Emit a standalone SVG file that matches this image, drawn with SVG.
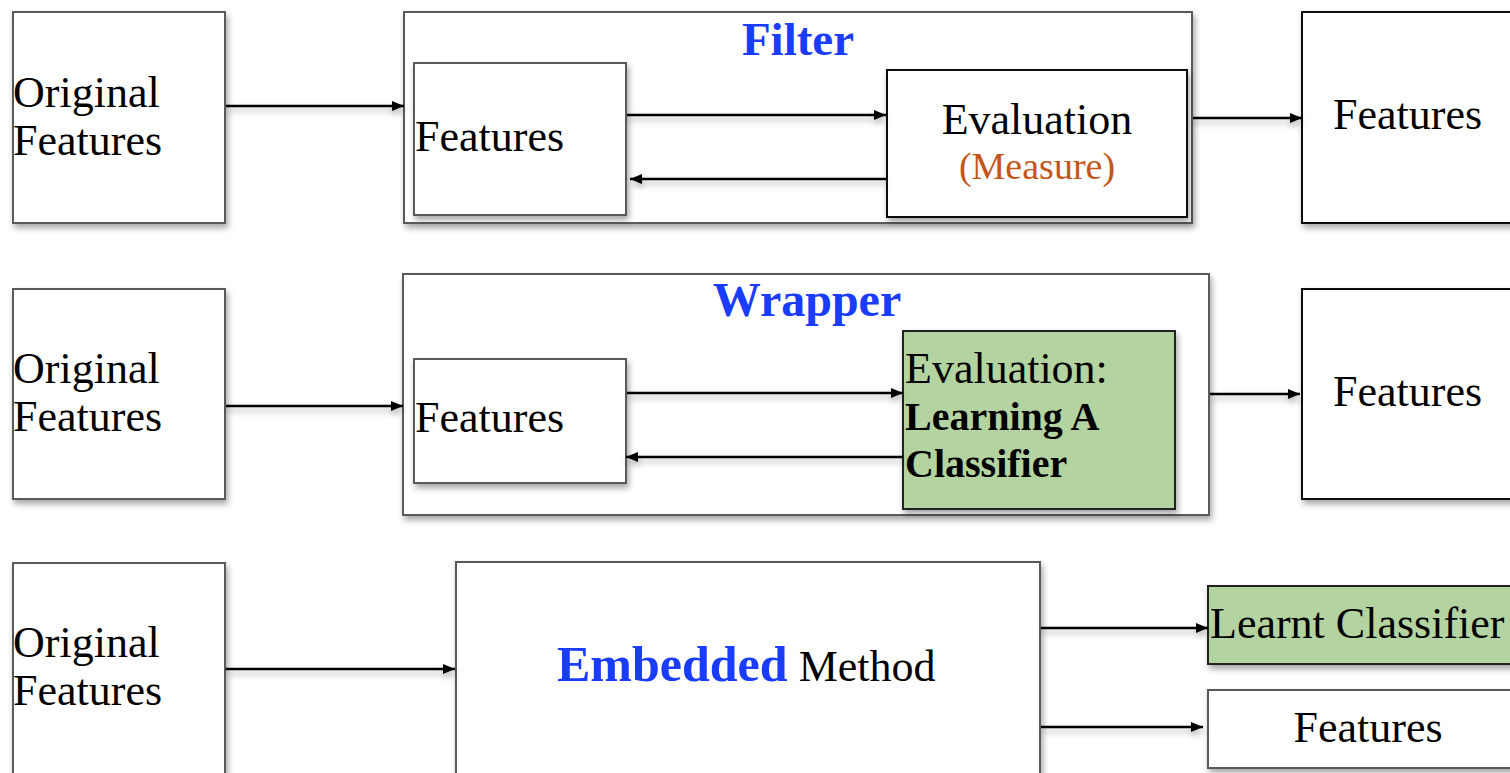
<svg xmlns="http://www.w3.org/2000/svg" width="1510" height="773" viewBox="0 0 1510 773">
  <defs>
    <filter id="sh" x="-10%" y="-10%" width="130%" height="140%">
      <feDropShadow dx="2" dy="4" stdDeviation="3" flood-color="#000" flood-opacity="0.35"/>
    </filter>
    <filter id="shl" filterUnits="userSpaceOnUse" x="0" y="0" width="1510" height="773">
      <feDropShadow dx="1" dy="4" stdDeviation="3" flood-color="#000" flood-opacity="0.3"/>
    </filter>
    <marker id="ah" viewBox="0 0 12 10" refX="12" refY="5" markerWidth="4.8" markerHeight="4" orient="auto" markerUnits="strokeWidth">
      <path d="M0,0 L12,5 L0,10 Z" fill="#000"/>
    </marker>
    <style>
      .box { fill: #fff; stroke: #5a5a5a; stroke-width: 2; filter: url(#sh); }
      .boxk { fill: #fff; stroke: #111; stroke-width: 2; filter: url(#sh); }
      .green { fill: #b3d4a0; stroke: #222; stroke-width: 2; filter: url(#sh); }
      .t { font-family: "Liberation Serif", "Times New Roman", serif; font-size: 44px; fill: #000; }
      .title { font-family: "Liberation Serif", "Times New Roman", serif; font-size: 47px; font-weight: bold; fill: #1a3cff; }
      .b { font-weight: bold; }
      .bl { font-weight: bold; font-size: 40px; }
      .meas { font-size: 38px; fill: #c4551a; }
      .conn { filter: url(#shl); }
      .conn line { stroke: #000; stroke-width: 2.5; marker-end: url(#ah); }
    </style>
  </defs>
  <rect width="1510" height="773" fill="#fff"/>

  <!-- Row 1: Filter -->
  <g id="orig1">
    <rect class="box" x="13" y="12" width="212" height="211"/>
    <text class="t" x="13" y="107">Original</text>
    <text class="t" x="13" y="155">Features</text>
  </g>
  <g id="filter">
    <rect class="box" x="404" y="12" width="788" height="211"/>
    <text class="title" x="798" y="55" text-anchor="middle">Filter</text>
  </g>
  <g id="feat1">
    <rect class="box" x="414" y="63" width="212" height="152"/>
    <text class="t" x="415" y="151">Features</text>
  </g>
  <g id="eval1">
    <rect class="boxk" x="887" y="70" width="300" height="147"/>
    <text class="t" x="1037" y="134" text-anchor="middle">Evaluation</text>
    <text class="t meas" x="1037" y="179" text-anchor="middle">(Measure)</text>
  </g>
  <g id="out1">
    <rect class="boxk" x="1302" y="12" width="220" height="211"/>
    <text class="t" x="1333" y="129">Features</text>
  </g>

  <!-- Row 2: Wrapper -->
  <g id="orig2">
    <rect class="box" x="13" y="289" width="212" height="210"/>
    <text class="t" x="13" y="383">Original</text>
    <text class="t" x="13" y="431">Features</text>
  </g>
  <g id="wrapper">
    <rect class="box" x="403" y="274" width="806" height="241"/>
    <text class="title" x="807" y="316" text-anchor="middle" style="font-size:48px">Wrapper</text>
  </g>
  <g id="feat2">
    <rect class="box" x="414" y="359" width="212" height="124"/>
    <text class="t" x="415" y="432">Features</text>
  </g>
  <g id="eval2">
    <rect class="green" x="903" y="331" width="272" height="178"/>
    <text class="t" x="905" y="383">Evaluation:</text>
    <text class="t bl" x="905" y="430">Learning A</text>
    <text class="t bl" x="905" y="477">Classifier</text>
  </g>
  <g id="out2">
    <rect class="boxk" x="1302" y="289" width="220" height="210"/>
    <text class="t" x="1333" y="406">Features</text>
  </g>

  <!-- Row 3: Embedded -->
  <g id="orig3">
    <rect class="box" x="13" y="563" width="212" height="220"/>
    <text class="t" x="13" y="657">Original</text>
    <text class="t" x="13" y="705">Features</text>
  </g>
  <g id="embedded">
    <rect class="box" x="456" y="562" width="584" height="220"/>
    <text class="t" x="557" y="681"><tspan class="b" fill="#1a3cff" font-size="50">Embedded</tspan> Method</text>
  </g>
  <g id="learnt">
    <rect class="green" x="1208" y="586" width="310" height="78"/>
    <text class="t" x="1210" y="638">Learnt Classifier</text>
  </g>
  <g id="out3">
    <rect class="box" x="1208" y="690" width="310" height="78"/>
    <text class="t" x="1368" y="742" text-anchor="middle">Features</text>
  </g>

  <!-- Connectors -->
  <g id="connectors" class="conn">
    <line x1="226" y1="106" x2="404" y2="106"/>
    <line x1="627" y1="115" x2="886" y2="115"/>
    <line x1="886" y1="179" x2="630" y2="179"/>
    <line x1="1193" y1="118" x2="1302" y2="118"/>
    <line x1="226" y1="406" x2="403" y2="406"/>
    <line x1="627" y1="393" x2="903" y2="393"/>
    <line x1="903" y1="457" x2="626" y2="457"/>
    <line x1="1210" y1="394" x2="1300" y2="394"/>
    <line x1="226" y1="669" x2="455" y2="669"/>
    <line x1="1041" y1="628" x2="1208" y2="628"/>
    <line x1="1041" y1="727" x2="1203" y2="727"/>
  </g>
</svg>
